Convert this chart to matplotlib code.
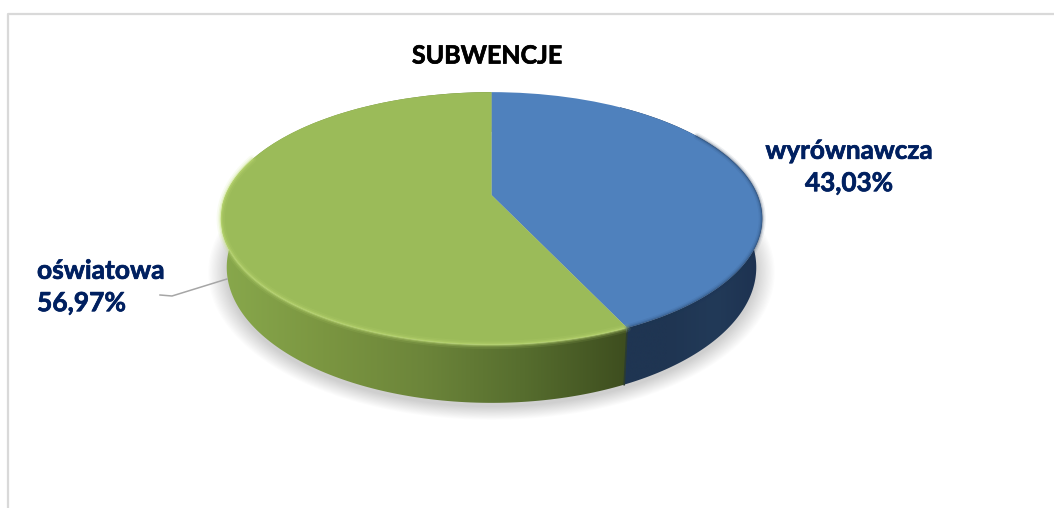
import numpy as np
import matplotlib
matplotlib.use('Agg')
import matplotlib.pyplot as plt
import matplotlib.patheffects as pe
from matplotlib.colors import LinearSegmentedColormap
from matplotlib.patches import Polygon
from matplotlib.transforms import Transform

categories = ['wyrównawcza', 'oświatowa']
shares = [43.03, 56.97]
top_colors = ['#4f81bd', '#9bbb59']
label_text = ['wyrównawcza\n43,03%', 'oświatowa\n56,97%']

# look of the tilted disc, in pixels of the 1054x508 picture
cx, cy = 491.5, 195
half_w, half_h, persp = 266, 122, 0.186
depth, shrink = 47.2, 0.978


def project(u, v, lower=False):
    d = 1 + persp * v
    x = half_w * u / d
    y = cy - half_h * v / d
    if lower:
        x = x * shrink
        y = y + depth / d
    return cx + x, y


class TiltTransform(Transform):
    input_dims = 2
    output_dims = 2

    def transform_non_affine(self, xy):
        xy = np.asarray(xy)
        x, y = project(xy[:, 0], xy[:, 1])
        return np.column_stack([x, y])


def arc(a0, a1, lower=False, n=200):
    t = np.radians(np.linspace(a0, a1, n))
    return np.column_stack(project(np.sin(t), np.cos(t), lower))


plt.rcParams['font.family'] = ['Lato', 'DejaVu Sans']
fig = plt.figure(figsize=(10.54, 5.08), dpi=100)
ax = fig.add_axes([0, 0, 1, 1])

wedges, _ = ax.pie(shares, colors=top_colors, startangle=90, counterclock=False, radius=1)
ax.set_aspect('auto')
ax.axis('on')
ax.set_frame_on(False)
ax.set_xticks([])
ax.set_yticks([])

edges = np.cumsum([0] + shares) * 3.6
tilt = TiltTransform() + ax.transData
for w in wedges:
    w.set_transform(tilt)
    w.set_clip_on(False)
    w.set_zorder(5)
    w.set_linewidth(0)

# chart frame, only top and left show
ax.plot([8, 8, 1054], [508, 14, 14], color='#d9d9d9', lw=1.6, zorder=1)

# soft shadow under the disc
base = arc(0, 360, lower=True, n=360)
mid = base.mean(axis=0)
for g in np.linspace(1.0, 1.07, 16):
    pts = mid + (base - mid) * [g, 1 + (g - 1) * 1.25]
    ax.add_patch(Polygon(pts + [0, 4], closed=True, fc='#000000', ec='none', alpha=0.013, zorder=2))

# side wall of each slice, shaded left to right
side_maps = [
    LinearSegmentedColormap.from_list('b', ['#1f3552', '#1f3552', '#223a58', '#1d3150']),
    LinearSegmentedColormap.from_list('g', ['#88a84c', '#7b9641', '#6c853a', '#566d2e', '#3e4e1f']),
]
side_span = [(620, 763), (222, 626)]
grad = np.linspace(0, 1, 256).reshape(1, -1)
for i in range(2):
    a0, a1 = edges[i], edges[i + 1]
    outline = np.vstack([arc(a0, a1), arc(a0, a1, lower=True)[::-1]])
    clip = Polygon(outline, closed=True, transform=ax.transData)
    im = ax.imshow(grad, cmap=side_maps[i], extent=[side_span[i][0], side_span[i][1], 420, 90],
                   aspect='auto', zorder=3, interpolation='bilinear')
    im.set_clip_path(clip)

# seam between the two side walls
seam_top = arc(edges[1], edges[1], n=1)[0]
seam_low = arc(edges[1], edges[1], lower=True, n=1)[0]
ax.plot([seam_top[0], seam_low[0]], [seam_top[1], seam_low[1]], color='#2b3c30', lw=1.2, zorder=4)

# bevel along the front rim of the top face
green_arc = arc(edges[1], 288)
blue_arc = arc(58, edges[1])
for lw, alpha in [(6, 0.10), (3.5, 0.2), (1.6, 0.4)]:
    ax.plot(green_arc[:, 0], green_arc[:, 1], color='#c3e07a', lw=lw, alpha=alpha, zorder=6,
            solid_capstyle='round')
for lw, alpha in [(5, 0.08), (3, 0.14), (1.4, 0.25)]:
    ax.plot(blue_arc[:, 0], blue_arc[:, 1], color='#1c3658', lw=lw, alpha=alpha, zorder=6,
            solid_capstyle='round')

# leader line of the left label
ax.plot([160, 172, 227], [295, 296, 279], color='#a6a6a6', lw=1.1, zorder=4)

ax.set_xlim(0, 1054)
ax.set_ylim(508, 0)

t1 = ax.text(487, 56, 'SUBWENCJE', color='black', fontsize=18, fontweight='bold',
             ha='center', va='center', zorder=8)
t2 = ax.text(849, 167, label_text[0], color='#002060', fontsize=18.8, fontweight='bold',
             ha='center', va='center', linespacing=1.42, zorder=8)
t3 = ax.text(37, 287, label_text[1], color='#002060', fontsize=19, fontweight='bold',
             ha='left', va='center', linespacing=1.42, zorder=8)
# Calibri bold sits a bit heavier than Lato bold
t1.set_path_effects([pe.withStroke(linewidth=0.5, foreground='black')])
t2.set_path_effects([pe.withStroke(linewidth=0.5, foreground='#002060')])
t3.set_path_effects([pe.withStroke(linewidth=0.5, foreground='#002060')])

fig.savefig('out.png', dpi=100, facecolor='white')
